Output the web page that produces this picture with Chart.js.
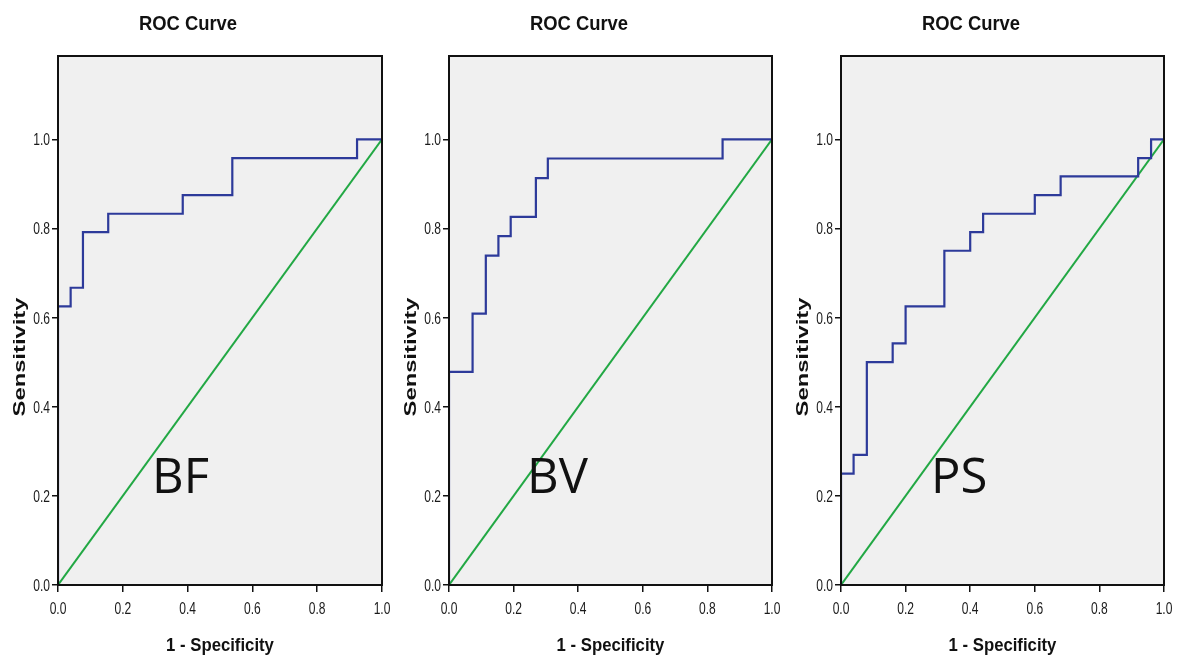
<!DOCTYPE html>
<html>
<head>
<meta charset="utf-8">
<script src="https://cdn.jsdelivr.net/npm/chart.js@4.4.1/dist/chart.umd.min.js"></script>
<style>
  body { margin: 0; background: #fff; width: 1177px; height: 659px; position: relative; overflow: hidden; }
  canvas { position: absolute; top: 0; }
</style>
</head>
<body>
<canvas id="bf" width="392" height="659" style="left:0px"></canvas>
<canvas id="bv" width="392" height="659" style="left:391px"></canvas>
<canvas id="ps" width="394" height="659" style="left:783px"></canvas>
<script>
// ROC points: 1 - specificity (x) and sensitivity (y)
const bfFpr = [0, 0, 0.039, 0.077, 0.155, 0.385, 0.538, 0.923, 1.0];
const bfTpr = [0, 0.625, 0.667, 0.792, 0.833, 0.875, 0.958, 1.0, 1.0];

const bvFpr = [0, 0, 0.073, 0.114, 0.153, 0.191, 0.269, 0.306, 0.847, 1.0];
const bvTpr = [0, 0.478, 0.609, 0.739, 0.783, 0.826, 0.913, 0.957, 1.0, 1.0];

const psFpr = [0, 0, 0.039, 0.08, 0.16, 0.2, 0.32, 0.4, 0.44, 0.6, 0.68, 0.92, 0.96, 1.0];
const psTpr = [0, 0.25, 0.292, 0.5, 0.542, 0.625, 0.75, 0.792, 0.833, 0.875, 0.917, 0.958, 1.0, 1.0];

// reference (chance) line
const refX = [0, 1];
const refY = [0, 1];

const tickStep = 0.2;
const panelTitle = 'ROC Curve';
const xTitle = '1 - Specificity';
const yTitle = 'Sensitivity';

function toPoints(xs, ys) {
  return xs.map((x, i) => ({ x: x, y: ys[i] }));
}

// the source picture is squeezed sideways, so text is drawn narrowed
function squeezed(ctx, text, x, y, sx) {
  ctx.save();
  ctx.translate(x, y);
  ctx.scale(sx, 1);
  ctx.fillText(text, 0, 0);
  ctx.restore();
}

// plot background, frame, tick labels and the texts around each panel
const decor = {
  id: 'decor',
  beforeDraw(chart, args, opts) {
    const a = chart.chartArea;
    const ctx = chart.ctx;
    ctx.save();
    ctx.fillStyle = '#f0f0f0';
    ctx.fillRect(a.left, a.top, a.right - a.left, a.bottom - a.top);
    ctx.restore();
  },
  afterDraw(chart, args, opts) {
    const a = chart.chartArea;
    const ctx = chart.ctx;
    const sx = chart.scales.x;
    const sy = chart.scales.y;
    ctx.save();
    ctx.strokeStyle = '#111';
    ctx.lineWidth = 2;
    ctx.strokeRect(a.left, a.top, a.right - a.left, a.bottom - a.top);

    ctx.fillStyle = '#1a1a1a';
    ctx.textBaseline = 'alphabetic';
    ctx.font = '16.5px "Liberation Sans", Arial, sans-serif';
    ctx.textAlign = 'center';
    sx.ticks.forEach((t) => {
      squeezed(ctx, t.value.toFixed(1), sx.getPixelForValue(t.value), a.bottom + 28.5, 0.73);
    });
    ctx.textAlign = 'right';
    sy.ticks.forEach((t) => {
      squeezed(ctx, t.value.toFixed(1), a.left - 8, sy.getPixelForValue(t.value) + 6, 0.73);
    });

    ctx.fillStyle = '#111';
    ctx.textAlign = 'center';
    ctx.font = 'bold 20px "Liberation Sans", Arial, sans-serif';
    squeezed(ctx, panelTitle, a.left + 130, 30, 0.92);

    ctx.font = 'bold 19px "Liberation Sans", Arial, sans-serif';
    squeezed(ctx, xTitle, (a.left + a.right) / 2, 651, 0.88);

    ctx.save();
    ctx.translate(a.left - 33, 357);
    ctx.rotate(-Math.PI / 2);
    ctx.scale(1.44, 1);
    ctx.font = 'bold 16.5px "Liberation Sans", Arial, sans-serif';
    ctx.fillText(yTitle, 0, 0);
    ctx.restore();

    ctx.textAlign = 'left';
    ctx.font = '49px "Open Sans", sans-serif';
    ctx.fillText(opts.label, a.left + opts.labelDx, 493);
    ctx.restore();
  }
};

function makeChart(id, fpr, tpr, label, labelDx, padRight) {
  return new Chart(document.getElementById(id), {
    type: 'scatter',
    data: {
      datasets: [{
        data: toPoints(fpr, tpr),
        showLine: true,
        stepped: 'before',
        borderColor: '#2d3a9a',
        borderWidth: 2.2,
        pointRadius: 0
      }, {
        data: toPoints(refX, refY),
        showLine: true,
        borderColor: '#22a844',
        borderWidth: 2,
        pointRadius: 0
      }]
    },
    options: {
      responsive: false,
      animation: false,
      layout: { padding: { top: 56, left: 0, right: padRight, bottom: 0 } },
      plugins: {
        legend: { display: false },
        tooltip: { enabled: false },
        decor: { label: label, labelDx: labelDx }
      },
      scales: {
        x: {
          type: 'linear',
          min: 0,
          max: 1,
          ticks: { stepSize: tickStep, display: false },
          grid: { drawOnChartArea: false, drawTicks: true, tickLength: 7, color: '#111', lineWidth: 1.5 },
          border: { display: true, color: '#111', width: 2 },
          afterFit: (s) => { s.height = 74; s.paddingLeft = 0; s.paddingRight = 0; }
        },
        y: {
          type: 'linear',
          min: 0,
          max: 1.187,
          ticks: { stepSize: tickStep, includeBounds: false, display: false },
          grid: { drawOnChartArea: false, drawTicks: true, tickLength: 6, color: '#111', lineWidth: 1.5 },
          border: { display: true, color: '#111', width: 2 },
          afterFit: (s) => { s.width = 58; s.paddingTop = 0; s.paddingBottom = 0; }
        }
      }
    },
    plugins: [decor]
  });
}

makeChart('bf', bfFpr, bfTpr, 'BF', 94, 10);
makeChart('bv', bvFpr, bvTpr, 'BV', 78, 11);
makeChart('ps', psFpr, psTpr, 'PS', 90, 13);
</script>
</body>
</html>
